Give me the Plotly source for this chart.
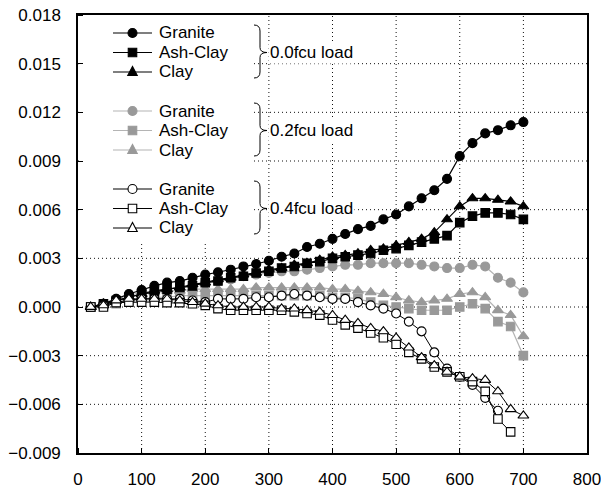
import plotly.graph_objects as go

# ---------------- data ----------------
temperature = [20, 40, 60, 80, 100, 120, 140, 160, 180, 200, 220, 240, 260, 280, 300,
               320, 340, 360, 380, 400, 420, 440, 460, 480, 500, 520, 540, 560, 580, 600,
               620, 640, 660, 680, 700]

granite_00 = [0.0000, 0.0002, 0.0005, 0.0008, 0.00105, 0.0013, 0.0015, 0.0016, 0.0018, 0.0020,
              0.00214, 0.0023, 0.0025, 0.00265, 0.00285, 0.0031, 0.0033, 0.0037, 0.0039, 0.0042,
              0.0045, 0.0048, 0.0050, 0.0054, 0.0057, 0.0062, 0.0067, 0.0072, 0.0079, 0.0093,
              0.0101, 0.0107, 0.0109, 0.0112, 0.0114]
ashclay_00 = [0.0000, 0.0002, 0.0004, 0.0006, 0.0008, 0.0009, 0.0011, 0.0012, 0.0013, 0.0015,
              0.0016, 0.0018, 0.0019, 0.0021, 0.0022, 0.0024, 0.0025, 0.0027, 0.0028, 0.0030,
              0.0031, 0.0032, 0.0033, 0.0035, 0.0036, 0.0038, 0.0040, 0.0042, 0.0044, 0.0052,
              0.0056, 0.0058, 0.0058, 0.0057, 0.0054]
clay_00 = [0.0000, 0.0002, 0.0004, 0.0006, 0.0008, 0.0010, 0.0011, 0.0012, 0.0014, 0.0015,
           0.0017, 0.0018, 0.0020, 0.0021, 0.0023, 0.0024, 0.0026, 0.0027, 0.0029, 0.0031,
           0.0032, 0.0033, 0.0035, 0.0036, 0.0038, 0.0040, 0.0042, 0.0046, 0.0054, 0.0062,
           0.0067, 0.0067, 0.0066, 0.0065, 0.0062]

granite_02 = [0.0000, 0.0002, 0.0005, 0.0007, 0.0009, 0.0010, 0.0011, 0.0012, 0.0013, 0.0015,
              0.0016, 0.0017, 0.0019, 0.0020, 0.0021, 0.0022, 0.0022, 0.0023, 0.0024, 0.0025,
              0.0026, 0.0026, 0.0027, 0.0027, 0.0027, 0.0027, 0.0026, 0.0025, 0.0024, 0.0024,
              0.0026, 0.0025, 0.0018, 0.0015, 0.0009]
ashclay_02 = [0.0000, 0.0001, 0.0002, 0.0004, 0.0005, 0.0006, 0.0006, 0.0007, 0.0007, 0.0007,
              0.0007, 0.0007, 0.0007, 0.0007, 0.0007, 0.0007, 0.0007, 0.0007, 0.0007, 0.0006,
              0.0006, 0.0005, 0.0003, 0.0001, 0.0000, -0.0001, -0.0002, -0.0002, -0.0002, 0.0000,
              0.0002, -0.0001, -0.0009, -0.0012, -0.0030]
clay_02 = [0.0000, 0.0002, 0.0004, 0.0006, 0.0008, 0.0009, 0.0010, 0.0010, 0.0011, 0.0011,
           0.0011, 0.0011, 0.0011, 0.0012, 0.0012, 0.0012, 0.0012, 0.0012, 0.0012, 0.0011,
           0.0011, 0.0010, 0.0009, 0.0008, 0.0006, 0.0004, 0.0003, 0.0004, 0.0005, 0.0008,
           0.0009, 0.0006, -0.0002, -0.0005, -0.0018]

granite_04 = [0.0000, 0.0001, 0.0003, 0.0004, 0.0005, 0.0005, 0.0005, 0.0005, 0.0004, 0.0003,
              0.0005, 0.0005, 0.0005, 0.0006, 0.0006, 0.0007, 0.0008, 0.0007, 0.0006, 0.0005,
              0.0005, 0.0003, 0.0001, -0.0001, -0.0004, -0.0009, -0.0015, -0.0028, -0.0038, -0.0043,
              -0.0048, -0.0056, -0.0064, None, None]
ashclay_04 = [0.0000, 0.0000, 0.00027, 0.0003, 0.0003, 0.0003, 0.00027, 0.00027, 0.0002, 0.0001,
              -0.0001, -0.0002, -0.0002, -0.0002, -0.0002, -0.0002, -0.0003, -0.0004, -0.0005, -0.0008,
              -0.0011, -0.0013, -0.0016, -0.0019, -0.0023, -0.0028, -0.0032, -0.0037, -0.0040, -0.0043,
              -0.0046, -0.0052, -0.0069, -0.0077, None]
clay_04 = [0.0000, 0.0001, 0.0004, 0.0005, 0.0005, 0.0005, 0.0005, 0.0004, 0.0003, 0.0002,
           0.0001, 0.0000, 0.0000, 0.0000, 0.0000, -0.0001, -0.0001, -0.0002, -0.0003, -0.0005,
           -0.0008, -0.0010, -0.0013, -0.0015, -0.0019, -0.0025, -0.0031, -0.0036, -0.0040, -0.0043,
           -0.0044, -0.0045, -0.0052, -0.0063, -0.0067]

series_names = ["Granite", "Ash-Clay", "Clay"]
group_labels = ["0.0fcu load", "0.2fcu load", "0.4fcu load"]
x_ticks = [0, 100, 200, 300, 400, 500, 600, 700, 800]
y_ticks = [-0.009, -0.006, -0.003, 0.0, 0.003, 0.006, 0.009, 0.012, 0.015, 0.018]

# ---------------- styles ----------------
FONT = "Arial, Liberation Sans, Helvetica, sans-serif"
BLACK = "#000000"
GRAY_M = "#999999"
GRAY_L = "#b4b4b4"
GRID = "#111111"
symbols = ["circle", "square", "triangle-up"]
sizes = [9, 8.5, 9.5]

groups = [
    dict(data=[granite_00, ashclay_00, clay_00], line=BLACK, fill=BLACK, edge=BLACK, lw=1.2),
    dict(data=[granite_02, ashclay_02, clay_02], line=GRAY_L, fill=GRAY_M, edge=GRAY_M, lw=1.2),
    dict(data=[granite_04, ashclay_04, clay_04], line=BLACK, fill="#ffffff", edge=BLACK, lw=1.0),
]

fig = go.Figure()

draw_order = [1, 0, 2]
for gi in draw_order:
    g = groups[gi]
    for si in range(3):
        fig.add_trace(go.Scatter(
            x=temperature, y=g["data"][si], mode="lines+markers",
            name=f"{series_names[si]} {group_labels[gi]}",
            line=dict(color=g["line"], width=g["lw"]),
            marker=dict(symbol=symbols[si], size=sizes[si], color=g["fill"],
                        line=dict(color=g["edge"], width=1.1)),
            showlegend=False, connectgaps=False,
        ))

ML, MR, MT, MB = 78, 14, 15, 35
W, H = 601, 488
PW, PH = W - ML - MR, H - MT - MB

def px(x):  # plot-area pixel -> paper x
    return x / PW

def py(y):  # plot-area pixel (from top) -> paper y
    return 1 - y / PH

def row_y(g, i):
    return 18 + g * 78 + i * 19.5

shapes = []
# dotted grid at the interior tick values
for xv in x_ticks[1:-1]:
    shapes.append(dict(type="line", xref="x", yref="paper", x0=xv, x1=xv, y0=0, y1=1,
                       layer="below", line=dict(color=GRID, width=1, dash="1px,3px")))
for yv in y_ticks[1:-1]:
    shapes.append(dict(type="line", xref="paper", yref="y", x0=0, x1=1, y0=yv, y1=yv,
                       layer="below", line=dict(color=GRID, width=1, dash="1px,3px")))
# white legend box hiding the grid behind the legend
shapes.append(dict(type="rect", xref="paper", yref="paper", layer="below",
                   x0=px(1), x1=px(175), y0=py(226), y1=py(1),
                   fillcolor="white", line=dict(width=0)))
annotations = []

def marker_shape(sym, cx, cy, size, fill, edge):
    r = size / 2
    if sym == "circle":
        return dict(type="circle", xref="paper", yref="paper",
                    x0=px(cx - r), x1=px(cx + r), y0=py(cy + r), y1=py(cy - r),
                    fillcolor=fill, line=dict(color=edge, width=1.1))
    if sym == "square":
        return dict(type="rect", xref="paper", yref="paper",
                    x0=px(cx - r), x1=px(cx + r), y0=py(cy + r), y1=py(cy - r),
                    fillcolor=fill, line=dict(color=edge, width=1.1))
    h = size * 0.95
    path = (f"M{px(cx - r)},{py(cy + h / 2.6)} L{px(cx + r)},{py(cy + h / 2.6)} "
            f"L{px(cx)},{py(cy - h * 0.62)} Z")
    return dict(type="path", xref="paper", yref="paper", path=path,
                fillcolor=fill, line=dict(color=edge, width=1.1))

for gi, g in enumerate(groups):
    for si in range(3):
        yy = row_y(gi, si)
        shapes.append(dict(type="line", xref="paper", yref="paper",
                           x0=px(35), x1=px(74), y0=py(yy), y1=py(yy),
                           line=dict(color=g["line"], width=1.2)))
        shapes.append(marker_shape(symbols[si], 54.5, yy, sizes[si], g["fill"], g["edge"]))
        annotations.append(dict(x=px(79), y=py(yy), xref="paper", yref="paper",
                                text=series_names[si], showarrow=False,
                                xanchor="left", yanchor="middle",
                                font=dict(family=FONT, size=17, color="#000")))
    y0 = row_y(gi, 0) - 8
    y1 = row_y(gi, 2) + 6
    ym = row_y(gi, 1)
    xl, xm, xt = 176, 182, 189
    pts = lambda x, y: f"{px(x)},{py(y)}"
    path = (f"M{pts(xl, y0)} Q{pts(xm, y0)} {pts(xm, y0 + 6)} L{pts(xm, ym - 5)} "
            f"Q{pts(xm, ym)} {pts(xt, ym)} Q{pts(xm, ym)} {pts(xm, ym + 5)} "
            f"L{pts(xm, y1 - 6)} Q{pts(xm, y1)} {pts(xl, y1)}")
    shapes.append(dict(type="path", path=path, xref="paper", yref="paper",
                       line=dict(color="#000", width=1)))
    annotations.append(dict(x=px(190), y=py(ym), xref="paper", yref="paper",
                            text=group_labels[gi], showarrow=False,
                            xanchor="left", yanchor="middle", bgcolor="white",
                            borderpad=1,
                            font=dict(family=FONT, size=17, color="#000")))

def axis(rng, vals, lab_push, **extra):
    return dict(
        range=rng, tickvals=vals,
        showline=True, linecolor="black", linewidth=1.5, mirror=True,
        ticks="outside", ticklen=lab_push, tickcolor="rgba(0,0,0,0)",
        minor=dict(tickvals=vals, ticks="inside", ticklen=5, tickcolor="black",
                   showgrid=False),
        showgrid=False, zeroline=False, automargin=False, ticklabeloverflow="allow",
        tickfont=dict(family=FONT, size=17, color="black"),
        **extra,
    )

fig.update_layout(
    width=W, height=H,
    margin=dict(l=ML, r=MR, t=MT, b=MB, autoexpand=False),
    paper_bgcolor="white", plot_bgcolor="white",
    xaxis=axis([0, 800], x_ticks, 10),
    yaxis=axis([-0.009, 0.018], y_ticks, 12, tickformat=".3f"),
    shapes=shapes, annotations=annotations, showlegend=False,
    font=dict(family=FONT),
)

fig.write_html("out.html", config={"displayModeBar": False},
               post_script="document.body.style.margin='0px';")
